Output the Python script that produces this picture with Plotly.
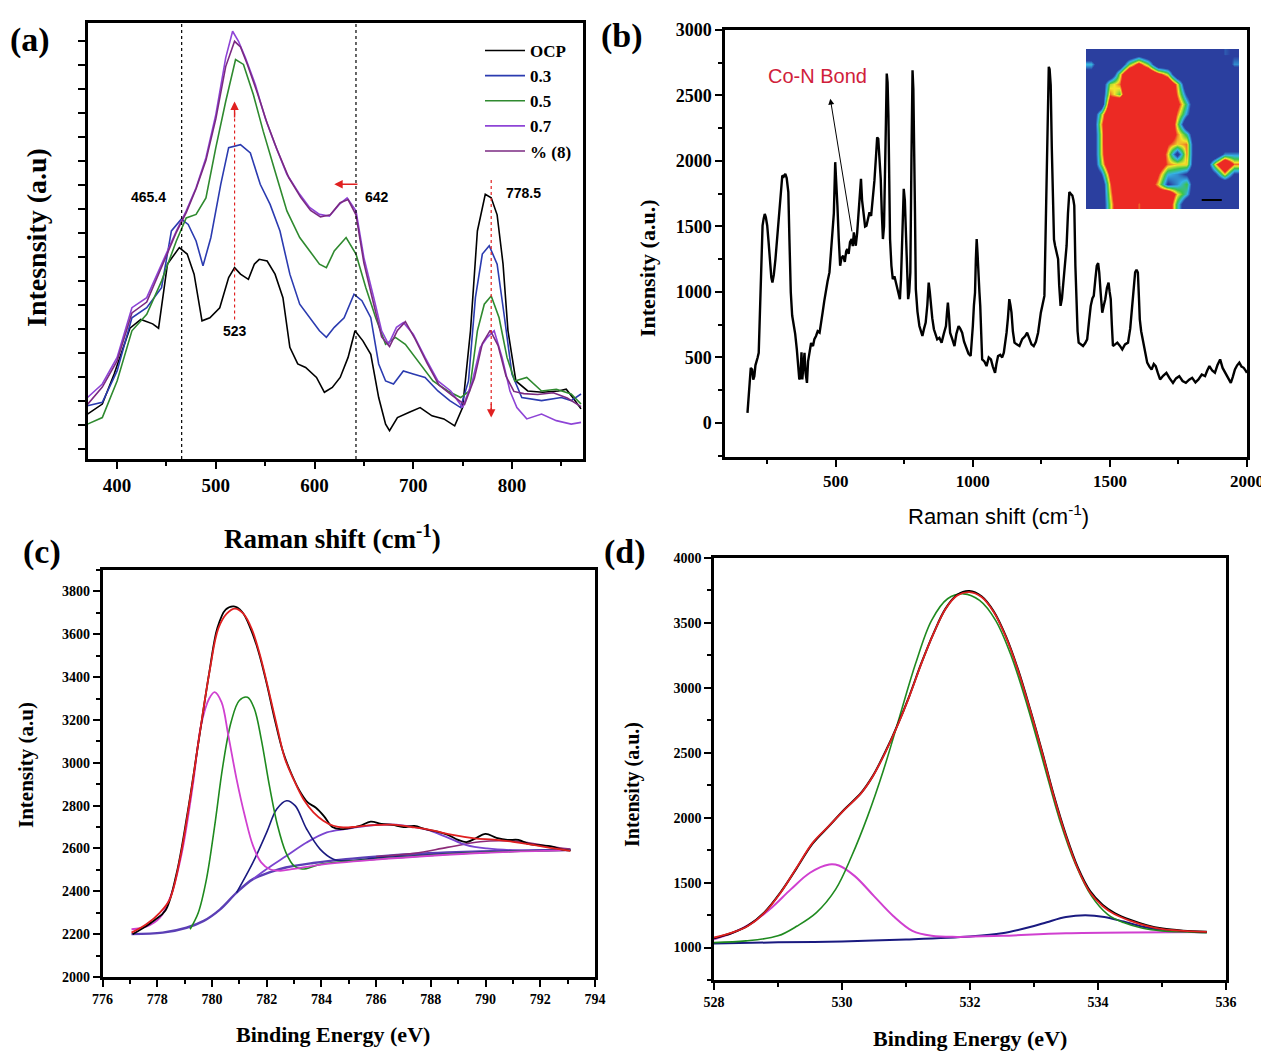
import plotly.graph_objects as go

# ---------------- Panel (a): in-situ Raman spectra ----------------
a_x_ocp = [370, 385, 397, 413, 424, 436, 442, 451, 463, 471, 478, 486, 494, 504, 513, 519, 525, 533, 539, 544, 552, 560, 568, 575, 583, 591, 602, 610, 618, 626, 634, 641, 649, 657, 665, 672, 676, 684, 696, 707, 719, 731, 742, 750, 758, 765, 773, 779, 785, 791, 796, 804, 816, 831, 847, 855, 862, 870]
a_ocp = [10.3, 12.6, 19.5, 30, 32, 31, 30, 44.7, 48.5, 47, 42.4, 31.7, 32.4, 34.7, 41.6, 43.9, 42.4, 41.2, 44.7, 45.8, 45.4, 42.4, 37, 25.6, 21.8, 21, 18.7, 15.3, 16.4, 18.7, 23.3, 29.4, 27.1, 24, 14.1, 8, 6.5, 9.5, 10.7, 11.8, 9.9, 9.2, 7.6, 11.8, 29.4, 52.3, 60.7, 59.9, 56, 44.7, 29.4, 17.9, 15.6, 15.3, 15.6, 16, 14, 11.5]

a_x_03 = [370, 385, 400, 415, 430, 445, 455, 465, 472, 480, 487, 495, 505, 513, 525, 535, 545, 555, 565, 575, 585, 595, 605, 612, 620, 630, 640, 648, 657, 665, 672, 680, 690, 700, 712, 725, 737, 748, 756, 763, 770, 777, 785, 792, 800, 810, 830, 850, 860, 870]
a_03 = [12.2, 13, 20.2, 32.4, 34.7, 39.3, 52.3, 55, 53.8, 50, 44.3, 50.8, 63, 71.4, 72.1, 70.2, 63, 58.4, 52.3, 42.4, 35.5, 32.4, 29.4, 27.9, 30.2, 32.4, 37.8, 36.3, 32.4, 21.8, 17.9, 17.2, 20.2, 19.5, 18.7, 15.6, 13.4, 11.8, 17.9, 37, 47, 48.9, 44.7, 33.2, 19.5, 14.1, 13.4, 14.1, 13.4, 14.9]

a_x_05 = [370, 385, 400, 415, 430, 445, 460, 470, 480, 490, 500, 510, 520, 528, 538, 548, 560, 572, 585, 595, 605, 612, 620, 632, 642, 652, 662, 672, 682, 692, 705, 720, 735, 748, 757, 765, 772, 779, 787, 795, 803, 815, 830, 845, 860, 870]
a_05 = [8, 9.5, 17.9, 29.4, 33.2, 40.8, 50, 55.3, 56.1, 59.9, 71.4, 82, 91.6, 90.5, 83.6, 75.2, 66, 56.9, 50.8, 47.7, 44.7, 43.9, 47.7, 50.8, 47, 39.3, 32.4, 26.3, 27.9, 26.3, 22.5, 17.9, 15.6, 14.1, 15.6, 29.4, 35.5, 37.4, 32.4, 23.3, 17.9, 18.7, 15.6, 16, 14.9, 12.6]

a_x_07 = [370, 385, 400, 415, 430, 445, 460, 470, 480, 490, 500, 510, 517, 523, 530, 540, 550, 560, 572, 585, 595, 605, 615, 625, 633, 642, 650, 660, 668, 675, 683, 690, 700, 712, 725, 738, 750, 760, 768, 775, 782, 790, 798, 805, 815, 830, 845, 860, 870]
a_07 = [14.1, 17.2, 23.3, 34.7, 37, 44.7, 52.3, 56.9, 62.2, 69.1, 79, 92, 98.1, 95.8, 92, 85.9, 78.2, 72.1, 65.3, 60.7, 57.7, 56.1, 55.7, 58.4, 59.9, 56.9, 46.2, 37, 29.4, 26.3, 30.2, 31.3, 28.6, 23.3, 17.9, 15.6, 11.8, 17.9, 25.6, 27.9, 29.4, 23.3, 15.6, 11.8, 9.2, 10.3, 8.8, 8, 8.4]

a_x_8 = [370, 385, 400, 415, 430, 445, 460, 470, 480, 490, 500, 510, 519, 525, 532, 542, 552, 562, 574, 586, 596, 606, 616, 626, 634, 642, 650, 660, 668, 676, 684, 692, 702, 714, 726, 740, 752, 762, 770, 778, 786, 794, 802, 812, 826, 842, 856, 870]
a_8 = [12.5, 16.5, 22.5, 33.5, 36, 44, 52, 56.5, 62, 68.5, 78, 90, 95.8, 94.5, 90.5, 84, 77, 71, 64.5, 60, 57, 55.5, 56, 58.8, 59.5, 56, 45, 35.5, 28, 25.8, 29.5, 31.5, 27.5, 22, 17, 14.5, 12.5, 18.5, 26.5, 29.5, 26, 19, 15.5, 15, 14.8, 15.2, 14, 12]

a_names = ["OCP", "0.3", "0.5", "0.7", "% (8)"]
a_colors = ["#000000", "#2b3bb0", "#2f8a2f", "#8e44d6", "#7b2a82"]
a_peaks = [465.4, 642]
a_labels = ["465.4", "523", "642", "778.5"]

# ---------------- Panel (b): Raman spectrum ----------------
b_x = [178, 182, 186, 190, 195, 199, 203, 207, 211, 215, 219, 223, 227, 230, 233, 237, 241, 245, 250, 255, 261, 265, 269, 274, 280, 286, 292, 298, 305, 310, 316, 321, 327, 331, 336, 341, 347, 352, 358, 362, 367, 371, 375, 378, 382, 386, 390, 395, 399, 405, 410, 417, 422, 428, 434, 441, 446, 452, 458, 464, 470, 477, 482, 488, 493, 498, 502, 506, 511, 516, 521, 527, 533, 538, 542, 547, 552, 558, 562, 566, 570, 573, 578, 583, 588, 592, 596, 602, 607, 612, 617, 623, 629, 636, 641, 647, 651, 655, 659, 664, 668, 672, 676, 680, 683, 686, 689, 692, 695, 698, 703, 708, 714, 722, 728, 734, 738, 742, 745, 748, 752, 756, 760, 764, 768, 772, 776, 780, 783, 786, 789, 792, 798, 805, 810, 816, 822, 828, 834, 839, 843, 847, 852, 858, 864, 870, 878, 886, 894, 902, 906, 909, 913, 917, 925, 933, 940, 948, 954, 961, 968, 977, 984, 992, 996, 1000, 1004, 1008, 1011, 1014, 1017, 1020, 1024, 1027, 1030, 1034, 1042, 1050, 1058, 1066, 1073, 1081, 1086, 1092, 1100, 1107, 1113, 1118, 1123, 1128, 1133, 1137, 1141, 1146, 1152, 1160, 1170, 1180, 1191, 1198, 1206, 1214, 1222, 1230, 1238, 1243, 1248, 1254, 1261, 1265, 1269, 1273, 1277, 1280, 1284, 1288, 1292, 1296, 1300, 1305, 1311, 1315, 1320, 1325, 1331, 1336, 1342, 1347, 1352, 1357, 1363, 1367, 1370, 1374, 1378, 1382, 1386, 1394, 1402, 1410, 1417, 1424, 1430, 1436, 1441, 1447, 1452, 1457, 1461, 1466, 1472, 1478, 1483, 1489, 1495, 1499, 1503, 1507, 1511, 1519, 1527, 1536, 1545, 1555, 1566, 1574, 1581, 1587, 1592, 1597, 1602, 1606, 1609, 1614, 1620, 1628, 1636, 1644, 1652, 1660, 1667, 1675, 1683, 1694, 1706, 1718, 1730, 1741, 1753, 1765, 1777, 1789, 1800, 1812, 1823, 1835, 1847, 1855, 1863, 1873, 1883, 1892, 1902, 1911, 1920, 1930, 1941, 1948, 1956, 1964, 1972, 1980, 1988, 1995, 2000]
b_y = [77, 250, 306, 420, 408, 330, 357, 440, 485, 500, 536, 800, 1149, 1350, 1506, 1560, 1596, 1570, 1506, 1380, 1200, 1110, 1072, 1130, 1251, 1400, 1583, 1750, 1889, 1880, 1902, 1870, 1762, 1400, 996, 820, 740, 680, 562, 420, 332, 350, 540, 332, 450, 536, 380, 306, 470, 536, 610, 587, 640, 664, 700, 689, 780, 842, 930, 1021, 1080, 1149, 1300, 1506, 1600, 1991, 1850, 1659, 1400, 1200, 1260, 1276, 1230, 1310, 1328, 1290, 1380, 1404, 1350, 1455, 1390, 1353, 1450, 1608, 1700, 1864, 1700, 1557, 1500, 1506, 1560, 1608, 1580, 1711, 1850, 2042, 2180, 2170, 2050, 1864, 1600, 1404, 1500, 1864, 2300, 2668, 2600, 2349, 1900, 1404, 1200, 1098, 1120, 1047, 1000, 945, 1100, 1353, 1600, 1787, 1700, 1404, 1150, 945, 1000, 1149, 2000, 2693, 2550, 2170, 1600, 1021, 850, 740, 700, 664, 720, 766, 900, 1072, 1000, 894, 800, 715, 680, 638, 650, 613, 680, 740, 850, 919, 820, 689, 640, 587, 680, 740, 720, 689, 620, 562, 530, 511, 600, 740, 900, 996, 1250, 1404, 1300, 1098, 1000, 894, 650, 485, 470, 434, 500, 485, 430, 383, 450, 511, 520, 500, 536, 600, 689, 800, 945, 900, 842, 700, 613, 600, 587, 640, 664, 690, 638, 600, 587, 620, 689, 780, 842, 900, 970, 1400, 1915, 2400, 2719, 2700, 2579, 2100, 1659, 1400, 1353, 1300, 1251, 1050, 894, 950, 1098, 1200, 1353, 1600, 1762, 1750, 1736, 1700, 1659, 1200, 945, 700, 613, 600, 587, 610, 638, 780, 894, 950, 970, 1100, 1200, 1220, 1149, 1000, 842, 900, 945, 1030, 1072, 1000, 945, 750, 587, 600, 613, 590, 562, 600, 613, 720, 894, 1050, 1149, 1170, 1149, 950, 791, 700, 638, 550, 460, 430, 408, 450, 434, 380, 332, 360, 383, 340, 306, 340, 357, 320, 306, 330, 345, 310, 332, 370, 357, 400, 434, 400, 383, 440, 485, 420, 383, 340, 306, 350, 408, 440, 460, 430, 421, 400, 383]

b_inset = [
    [0, 0, 0, 0, 0, 0.1, 0, 0, 0, 0, 0, 0, 0, 0, 0.25, 0.2],
    [0.35, 0, 0, 0, 0.45, 0.7, 0.45, 0, 0, 0, 0, 0, 0, 0, 0, 0.3],
    [0.1, 0, 0, 0.5, 0.95, 1, 0.95, 0.7, 0.5, 0, 0, 0, 0, 0, 0, 0],
    [0, 0, 0.5, 0.6, 1, 1, 1, 1, 0.95, 0.55, 0, 0, 0, 0, 0, 0],
    [0, 0, 0.6, 0.45, 1, 1, 1, 1, 1, 0.6, 0.2, 0, 0, 0, 0, 0],
    [0, 0, 0.8, 1, 1, 1, 1, 1, 1, 0.7, 0.4, 0, 0, 0, 0, 0],
    [0, 0.45, 0.9, 1, 1, 1, 1, 1, 1, 0.6, 0.3, 0, 0, 0, 0, 0],
    [0, 0.55, 0.95, 0.75, 1, 1, 1, 1, 1, 0.5, 0, 0, 0, 0, 0, 0],
    [0, 0.5, 1, 1, 1, 1, 1, 1, 0.85, 0.6, 0.4, 0, 0, 0, 0.2, 0],
    [0, 0.5, 1, 1, 1, 1, 1, 1, 0.65, 0.55, 0.6, 0, 0, 0, 0, 0],
    [0, 0.5, 0.95, 1, 1, 1, 1, 0.85, 0.55, 0.15, 0.6, 0, 0, 0, 0.3, 0.3],
    [0, 0.45, 0.85, 1, 1, 1, 1, 0.8, 0.6, 0.55, 0.55, 0, 0, 0.55, 0.95, 0.6],
    [0, 0.2, 0.7, 1, 1, 1, 1, 0.65, 0.35, 0.3, 0.2, 0, 0, 0.2, 0.55, 0.2],
    [0, 0, 0.6, 1, 1, 1, 0.8, 0.55, 0.2, 0.3, 0.45, 0, 0, 0, 0, 0],
    [0, 0, 0.55, 0.95, 1, 0.75, 0.7, 0.8, 0.9, 0.55, 0.35, 0, 0, 0, 0, 0],
    [0, 0, 0.5, 0.9, 1, 0.6, 0.8, 0.95, 0.85, 0.4, 0, 0, 0, 0, 0, 0],
]

# ---------------- Panel (c): Co 2p XPS ----------------
c_x_data = [777.1, 777.5, 777.9, 778.3, 778.7, 779.1, 779.5, 779.9, 780.2, 780.5, 780.8, 781.1, 781.4, 781.7, 782.0, 782.3, 782.6, 782.9, 783.2, 783.5, 783.8, 784.1, 784.4, 784.7, 785.0, 785.4, 785.8, 786.2, 786.6, 787.0, 787.4, 787.8, 788.2, 788.6, 789.0, 789.3, 789.6, 790.0, 790.4, 790.8, 791.2, 791.6, 792.0, 792.4, 792.8, 793.1]
c_data = [2200, 2230, 2265, 2310, 2480, 2760, 3090, 3420, 3630, 3715, 3730, 3705, 3630, 3520, 3370, 3200, 3050, 2950, 2870, 2815, 2790, 2750, 2700, 2690, 2695, 2705, 2725, 2715, 2710, 2700, 2705, 2690, 2680, 2665, 2640, 2630, 2645, 2668, 2650, 2640, 2640, 2620, 2615, 2610, 2595, 2590]
c_x_fit = [777.06, 777.6, 778.1, 778.46, 778.83, 779.2, 779.56, 779.93, 780.23, 780.54, 780.84, 781.15, 781.45, 781.76, 782.06, 782.37, 782.67, 782.98, 783.34, 783.71, 784.07, 784.44, 784.8, 785.3, 785.9, 786.6, 787.4, 788.1, 788.8, 789.6, 790.3, 791.0, 791.8, 792.5, 793.1]
c_fit = [2207, 2246, 2301, 2363, 2550, 2831, 3143, 3439, 3626, 3696, 3720, 3696, 3626, 3501, 3345, 3174, 3018, 2924, 2831, 2769, 2730, 2706, 2698, 2702, 2709, 2711, 2698, 2683, 2663, 2647, 2641, 2631, 2616, 2600, 2589]
c_x_p1 = [777.06, 777.6, 778.1, 778.5, 778.9, 779.3, 779.6, 779.9, 780.1, 780.35, 780.6, 780.9, 781.2, 781.5, 781.8, 782.1, 782.5, 783.0, 784.0, 786.0, 788.0, 790.0, 793.1]
c_p1 = [2223, 2235, 2277, 2380, 2580, 2893, 3174, 3300, 3330, 3283, 3127, 2924, 2753, 2613, 2535, 2504, 2496, 2505, 2525, 2548, 2566, 2580, 2592]
c_x_p2 = [779.2, 779.5, 779.8, 780.1, 780.4, 780.7, 781.0, 781.3, 781.55, 781.8, 782.1, 782.4, 782.7, 783.0, 783.3, 784.0, 786.0, 788.0, 790.0, 793.1]
c_p2 = [2223, 2300, 2457, 2706, 2987, 3190, 3291, 3306, 3252, 3112, 2893, 2706, 2582, 2519, 2504, 2527, 2550, 2568, 2582, 2592]
c_x_p3 = [780.9, 781.5, 782.0, 782.37, 782.73, 783.04, 783.46, 783.95, 784.44, 784.93, 786.0, 788.0, 790.0, 793.1]
c_p3 = [2394, 2535, 2675, 2784, 2823, 2800, 2691, 2597, 2550, 2542, 2555, 2570, 2583, 2594]
c_x_p4 = [781.5, 782.0, 782.73, 783.46, 784.2, 784.9, 785.66, 786.4, 787.1, 787.85, 788.6, 789.3, 790.05, 791.0, 793.1]
c_p4 = [2457, 2504, 2566, 2628, 2675, 2691, 2706, 2712, 2706, 2688, 2652, 2616, 2600, 2592, 2592]
c_x_p5 = [786.0, 787.4, 788.6, 789.8, 790.5, 791.3, 792.2, 793.1]
c_p5 = [2562, 2577, 2605, 2631, 2636, 2631, 2613, 2597]
c_x_bg = [777.06, 778.2, 779.07, 779.7, 780.3, 780.9, 781.5, 782.1, 782.7, 783.7, 784.9, 786.1, 787.4, 788.6, 789.8, 791.0, 793.1]
c_bg = [2200, 2207, 2230, 2262, 2316, 2394, 2457, 2488, 2511, 2532, 2550, 2563, 2574, 2581, 2586, 2589, 2594]

# ---------------- Panel (d): O 1s XPS ----------------
d_x_fit = [528.0, 528.28, 528.53, 528.79, 529.04, 529.29, 529.54, 529.79, 530.04, 530.3, 530.48, 530.67, 530.86, 531.05, 531.24, 531.43, 531.62, 531.8, 531.99, 532.18, 532.37, 532.56, 532.75, 532.94, 533.13, 533.31, 533.5, 533.69, 533.88, 534.07, 534.26, 534.51, 534.76, 535.01, 535.33, 535.7]
d_fit = [1077, 1115, 1166, 1269, 1422, 1614, 1806, 1934, 2062, 2189, 2317, 2496, 2701, 2931, 3187, 3417, 3609, 3711, 3737, 3699, 3584, 3392, 3136, 2829, 2496, 2164, 1857, 1601, 1422, 1320, 1256, 1205, 1166, 1141, 1128, 1120]
d_data = [1072, 1112, 1168, 1272, 1425, 1610, 1800, 1932, 2065, 2192, 2320, 2500, 2705, 2935, 3190, 3420, 3612, 3716, 3745, 3705, 3590, 3398, 3142, 2835, 2503, 2172, 1866, 1611, 1432, 1330, 1266, 1212, 1172, 1146, 1130, 1121]
d_x_p1 = [528.0, 528.5, 529.0, 529.3, 529.6, 529.9, 530.15, 530.4, 530.65, 530.9, 531.15, 531.4, 531.65, 531.9, 532.15, 532.4, 532.65, 532.9, 533.15, 533.4, 533.65, 533.9, 534.15, 534.4, 534.7, 535.0, 535.4, 535.7]
d_p1 = [1038, 1051, 1090, 1166, 1269, 1448, 1703, 2010, 2369, 2778, 3187, 3520, 3686, 3724, 3673, 3520, 3238, 2855, 2420, 1985, 1640, 1396, 1256, 1192, 1148, 1128, 1120, 1115]
d_x_p2 = [528.0, 528.3, 528.6, 528.9, 529.2, 529.5, 529.8, 529.95, 530.2, 530.5, 530.8, 531.1, 531.4, 531.8, 532.5, 533.5, 535.7]
d_p2 = [1064, 1115, 1192, 1307, 1448, 1576, 1640, 1632, 1550, 1396, 1243, 1128, 1090, 1082, 1090, 1110, 1120]
d_x_p3 = [528.0, 529.0, 530.0, 531.0, 532.0, 532.5, 533.0, 533.2, 533.5, 533.8, 534.1, 534.4, 534.7, 535.0, 535.4, 535.7]
d_p3 = [1031, 1040, 1047, 1062, 1085, 1110, 1166, 1195, 1235, 1248, 1235, 1200, 1160, 1135, 1122, 1118]

# ---------------- figure ----------------
SERIF = "Liberation Serif"
SANS = "Liberation Sans"
OFF = 8                      # page body margin of the html page
W, H = 1269 - OFF, 1053 - OFF


def dom_x(x0, x1):
    return [(x0 - OFF) / W, (x1 - OFF) / W]


def dom_y(top, bottom):
    return [1 - (bottom - OFF) / H, 1 - (top - OFF) / H]


def px(xp, yp):
    return (xp - OFF) / W, 1 - (yp - OFF) / H


fig = go.Figure()

# panel (a)
for xs, ys, nm, col in zip([a_x_ocp, a_x_03, a_x_05, a_x_07, a_x_8],
                           [a_ocp, a_03, a_05, a_07, a_8], a_names, a_colors):
    fig.add_trace(go.Scatter(x=xs, y=ys, name=nm, mode="lines",
                             line=dict(color=col, width=1.6),
                             xaxis="x", yaxis="y", showlegend=True))

# panel (b)
fig.add_trace(go.Scatter(x=b_x, y=b_y, mode="lines", line=dict(color="black", width=2.4),
                         xaxis="x2", yaxis="y2", showlegend=False))
fig.add_trace(go.Heatmap(z=b_inset, xaxis="x5", yaxis="y5", zsmooth="best", showscale=False,
                         zmin=0, zmax=1,
                         colorscale=[[0, "#2b3f9f"], [0.22, "#2b3f9f"], [0.34, "#35b4e6"],
                                     [0.44, "#3cc44a"], [0.54, "#f2e52a"], [0.64, "#ec2a24"],
                                     [1, "#ec2a24"]],
                         hoverinfo="skip"))

# panel (c)
c_series = [
    (c_x_bg, c_bg, "#5b3fb5", 2.4),
    (c_x_p5, c_p5, "#8b2a78", 1.6),
    (c_x_p4, c_p4, "#7a45d0", 1.8),
    (c_x_p3, c_p3, "#1a1a80", 1.6),
    (c_x_p2, c_p2, "#1f8a1f", 1.6),
    (c_x_p1, c_p1, "#d040d0", 1.8),
    (c_x_data, c_data, "#000000", 1.8),
    (c_x_fit, c_fit, "#e02020", 1.8),
]
for xs, ys, col, w in c_series:
    fig.add_trace(go.Scatter(x=xs, y=ys, mode="lines", line=dict(color=col, width=w, shape="spline"),
                             xaxis="x3", yaxis="y3", showlegend=False))

# panel (d)
d_series = [
    (d_x_p3, d_p3, "#1a1a80", 2.0),
    (d_x_p2, d_p2, "#d040d0", 2.0),
    (d_x_p1, d_p1, "#1f8a1f", 1.6),
    (d_x_fit, d_data, "#000000", 2.0),
    (d_x_fit, d_fit, "#e02020", 1.8),
]
for xs, ys, col, w in d_series:
    fig.add_trace(go.Scatter(x=xs, y=ys, mode="lines", line=dict(color=col, width=w, shape="spline"),
                             xaxis="x4", yaxis="y4", showlegend=False))


def ax(domain, rng, dtick, minor_dtick, tick_size, anchor, show_labels=True, tick0=None):
    d = dict(domain=domain, range=rng, showline=True, mirror=True, linecolor="black",
             linewidth=2.5, ticks="outside", ticklen=7, tickwidth=2, tickcolor="black",
             showgrid=False, zeroline=False, anchor=anchor, dtick=dtick, automargin=False,
             showticklabels=show_labels,
             tickfont=dict(family=SERIF, size=tick_size, color="black", weight="bold"))
    if tick0 is not None:
        d["tick0"] = tick0
    if minor_dtick:
        d["minor"] = dict(ticks="outside", ticklen=4, tickwidth=2, tickcolor="black",
                          dtick=minor_dtick, showgrid=False)
    return d


lx, ly = px(577, 33)
layout = dict(
    width=W, height=H, margin=dict(l=0, r=0, t=0, b=0, autoexpand=False),
    plot_bgcolor="white", paper_bgcolor="white",
    xaxis=ax(dom_x(87.5, 583), [370, 872], 100, 50, 19, "y"),
    yaxis=ax(dom_y(23, 459), [0, 100], 5.5, None, 19, "x", show_labels=False, tick0=2.3),
    xaxis2=ax(dom_x(725, 1247), [96, 2000], 500, 250, 17, "y2"),
    yaxis2=ax(dom_y(30, 457), [-260, 3000], 500, 250, 18, "x2"),
    xaxis3=ax(dom_x(102.5, 595), [776, 794], 2, 1, 14, "y3"),
    yaxis3=ax(dom_y(570, 977), [2000, 3900], 200, 100, 14, "x3"),
    xaxis4=ax(dom_x(714, 1226), [528, 536], 2, 1, 14, "y4"),
    yaxis4=ax(dom_y(558, 980), [750, 4000], 500, 250, 14, "x4"),
    xaxis5=dict(domain=dom_x(1086, 1239), range=[-0.5, 15.5], visible=False, anchor="y5"),
    yaxis5=dict(domain=dom_y(49, 209), range=[15.5, -0.5], visible=False, anchor="x5"),
    legend=dict(x=lx, xanchor="right", y=ly, yanchor="top",
                font=dict(family=SERIF, size=17, color="black", weight="bold"),
                bgcolor="rgba(0,0,0,0)", itemwidth=40, tracegroupgap=0),
    showlegend=True,
)
fig.update_layout(**layout)

shapes = []
for p in a_peaks:
    shapes.append(dict(type="line", xref="x", yref="y", x0=p, x1=p, y0=0, y1=100,
                       line=dict(color="black", width=1.2, dash="dot")))
# red dotted guide lines in (a)
shapes.append(dict(type="line", xref="x", yref="y", x0=519, x1=519, y0=32, y1=80,
                   line=dict(color="#e02020", width=1.2, dash="dot")))
shapes.append(dict(type="line", xref="x", yref="y", x0=779, x1=779, y0=64, y1=11,
                   line=dict(color="#e02020", width=1.2, dash="dot")))
# scale bar in inset
shapes.append(dict(type="line", xref="x5", yref="y5", x0=11.6, x1=13.7, y0=14.6, y1=14.6,
                   line=dict(color="black", width=2)))

annotations = []


def txt(x, y, s, size, family=SERIF, xref="paper", yref="paper", angle=0, color="black", bold=True):
    annotations.append(dict(x=x, y=y, xref=xref, yref=yref, text=s, showarrow=False,
                            textangle=angle, xanchor="center", yanchor="middle",
                            font=dict(family=family, size=size, color=color,
                                      weight="bold" if bold else "normal")))


# panel letters
for lab, (xp, yp) in zip(["(a)", "(b)", "(c)", "(d)"], [(30, 40), (622, 36), (42, 552), (625, 552)]):
    X, Y = px(xp, yp)
    txt(X, Y, lab, 34)

# axis titles
X, Y = px(333, 537); txt(X, Y, "Raman shift (cm<sup>-1</sup>)", 27)
X, Y = px(36, 238); txt(X, Y, "Intesnsity (a.u)", 28, angle=-90)
X, Y = px(998, 515); txt(X, Y, "Raman shift (cm<sup>-1</sup>)", 22, family=SANS, bold=False)
X, Y = px(648, 268); txt(X, Y, "Intensity (a.u.)", 22, angle=-90)
X, Y = px(333, 1034); txt(X, Y, "Binding Energy (eV)", 22)
X, Y = px(26, 765); txt(X, Y, "Intensity (a.u)", 21, angle=-90)
X, Y = px(970, 1038); txt(X, Y, "Binding Energy (eV)", 22)
X, Y = px(632, 785); txt(X, Y, "Intensity (a.u.)", 20, angle=-90)

# peak labels (a)
for lab, (xv, yv) in zip(a_labels, [(432, 60), (519, 29.4), (663, 60), (812, 61)]):
    txt(xv, yv, lab, 14, family=SANS, xref="x", yref="y")

# arrow heads (a)
annotations.append(dict(x=519, y=82, ax=519, ay=78, xref="x", yref="y", axref="x", ayref="y",
                        text="", showarrow=True, arrowhead=2, arrowsize=1.2, arrowwidth=1.4,
                        arrowcolor="#e02020"))
annotations.append(dict(x=779, y=9.5, ax=779, ay=13, xref="x", yref="y", axref="x", ayref="y",
                        text="", showarrow=True, arrowhead=2, arrowsize=1.2, arrowwidth=1.4,
                        arrowcolor="#e02020"))
annotations.append(dict(x=620, y=63, ax=645, ay=63, xref="x", yref="y", axref="x", ayref="y",
                        text="", showarrow=True, arrowhead=2, arrowsize=1.2, arrowwidth=1.4,
                        arrowcolor="#e02020"))

# (b) Co-N bond
txt(433, 2650, "Co-N Bond", 20, family=SANS, xref="x2", yref="y2", color="#d0203a", bold=False)
annotations.append(dict(x=480, y=2476, ax=560, ay=1450, xref="x2", yref="y2", axref="x2", ayref="y2",
                        text="", showarrow=True, arrowhead=2, arrowsize=1.2, arrowwidth=1,
                        arrowcolor="black"))

fig.update_layout(shapes=shapes, annotations=annotations)
fig.write_html("out.html")
